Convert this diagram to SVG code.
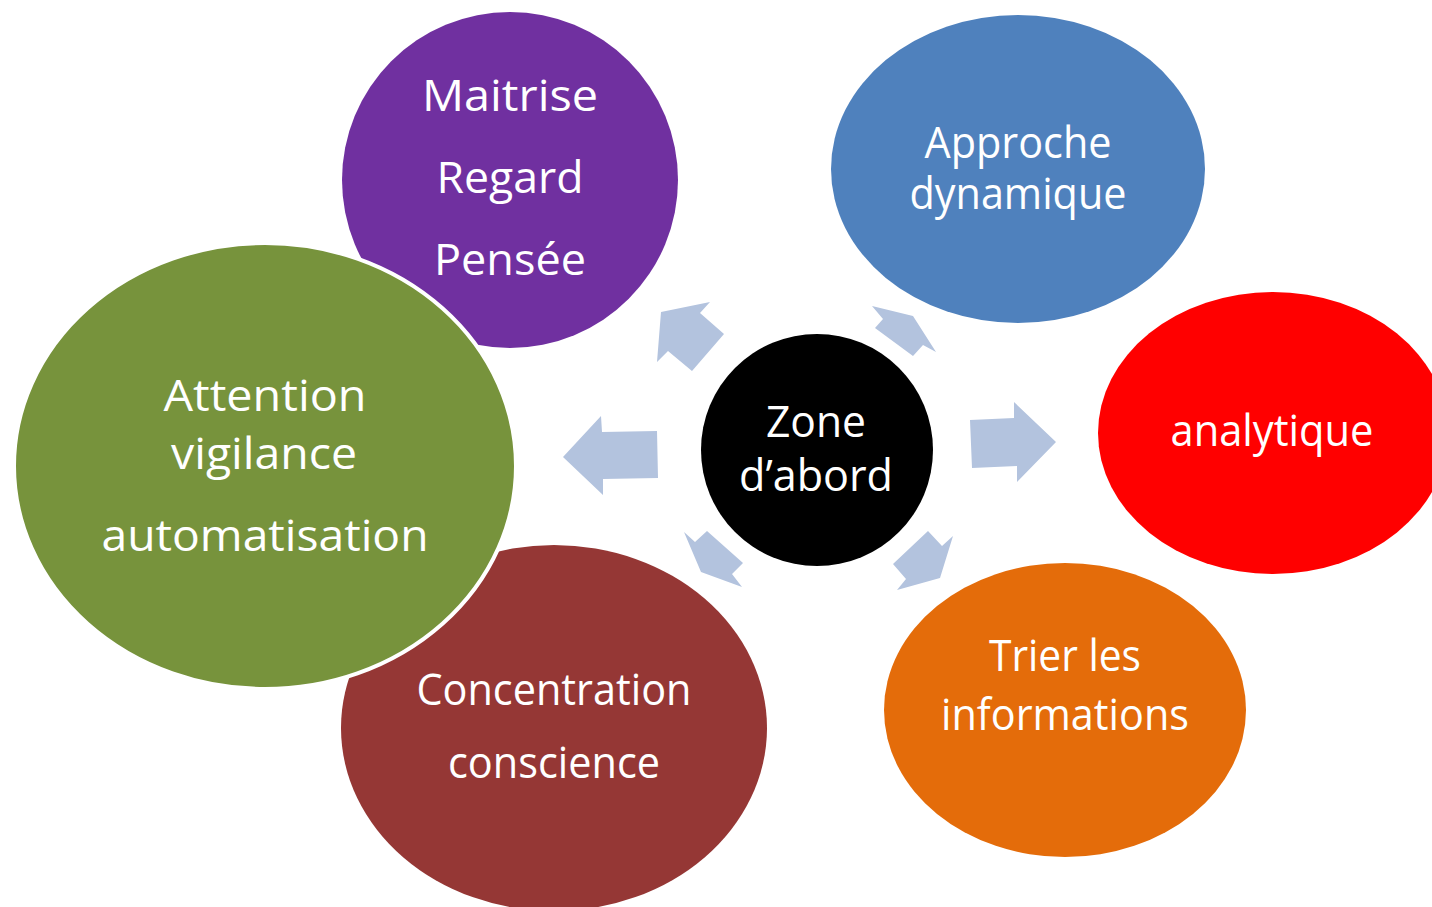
<svg xmlns="http://www.w3.org/2000/svg" width="1432" height="907" viewBox="0 0 1432 907">
<style>
.t{font-family:"Open Sans","Noto Sans","Liberation Sans",sans-serif;font-size:43px;fill:#fff;text-anchor:middle}
.arr{fill:#B3C3DE}
</style>
<rect width="1432" height="907" fill="#fff"/>
<g id="n-purple">
<ellipse cx="510" cy="180" rx="168" ry="168" fill="#7030A0"/>
<text class="t" x="510" y="111" textLength="176" lengthAdjust="spacingAndGlyphs">Maitrise</text>
<text class="t" x="510" y="193" textLength="147" lengthAdjust="spacingAndGlyphs">Regard</text>
<text class="t" x="510" y="275" textLength="152" lengthAdjust="spacingAndGlyphs">Pensée</text>
</g>
<g id="n-brown">
<ellipse cx="554" cy="728" rx="213" ry="183" fill="#953735"/>
<text class="t" x="554" y="705" textLength="275" lengthAdjust="spacingAndGlyphs">Concentration</text>
<text class="t" x="554" y="778" textLength="212" lengthAdjust="spacingAndGlyphs">conscience</text>
</g>
<g id="n-green">
<ellipse cx="265" cy="466" rx="251" ry="223" fill="#77933C" stroke="#fff" stroke-width="4"/>
<text class="t" x="265" y="411" textLength="203" lengthAdjust="spacingAndGlyphs">Attention</text>
<text class="t" x="264" y="469" textLength="186" lengthAdjust="spacingAndGlyphs">vigilance</text>
<text class="t" x="265" y="551" textLength="327" lengthAdjust="spacingAndGlyphs">automatisation</text>
</g>
<g id="n-blue">
<ellipse cx="1018" cy="169" rx="187" ry="154" fill="#4F81BD"/>
<text class="t" x="1018" y="158" textLength="187" lengthAdjust="spacingAndGlyphs">Approche</text>
<text class="t" x="1018" y="209" textLength="217" lengthAdjust="spacingAndGlyphs">dynamique</text>
</g>
<g id="n-red">
<ellipse cx="1273" cy="433" rx="175" ry="141" fill="#FF0000"/>
<text class="t" x="1272" y="446" textLength="203" lengthAdjust="spacingAndGlyphs">analytique</text>
</g>
<g id="n-orange">
<ellipse cx="1065" cy="710" rx="181" ry="147" fill="#E46C0A"/>
<text class="t" x="1065" y="671" textLength="152" lengthAdjust="spacingAndGlyphs">Trier les</text>
<text class="t" x="1065" y="730" textLength="248" lengthAdjust="spacingAndGlyphs">informations</text>
</g>
<g id="n-center">
<circle cx="817" cy="450" r="116" fill="#000"/>
<text class="t" x="816" y="437" textLength="100" lengthAdjust="spacingAndGlyphs">Zone</text>
<text class="t" x="816" y="491" textLength="154" lengthAdjust="spacingAndGlyphs">d’abord</text>
</g>
<g id="connectors">
<polygon class="arr" points="661,312 710,302 700,313 724,334 692,371 668,351 657,362"/>
<polygon class="arr" points="872,306 913,316 936,352 923,345 913,356 875,328 883,319"/>
<polygon class="arr" points="970,420 1014,418 1014,402 1056,442 1017,482 1017,466 972,468"/>
<polygon class="arr" points="928,531 942,546 953,536 940,578 897,590 906,579 893,564"/>
<polygon class="arr" points="684,532 695,542 707,531 743,563 732,574 742,587 701,572"/>
<polygon class="arr" points="563,457 601,416 602,432 657,431 658,478 603,479 603,495"/>
</g>
</svg>
